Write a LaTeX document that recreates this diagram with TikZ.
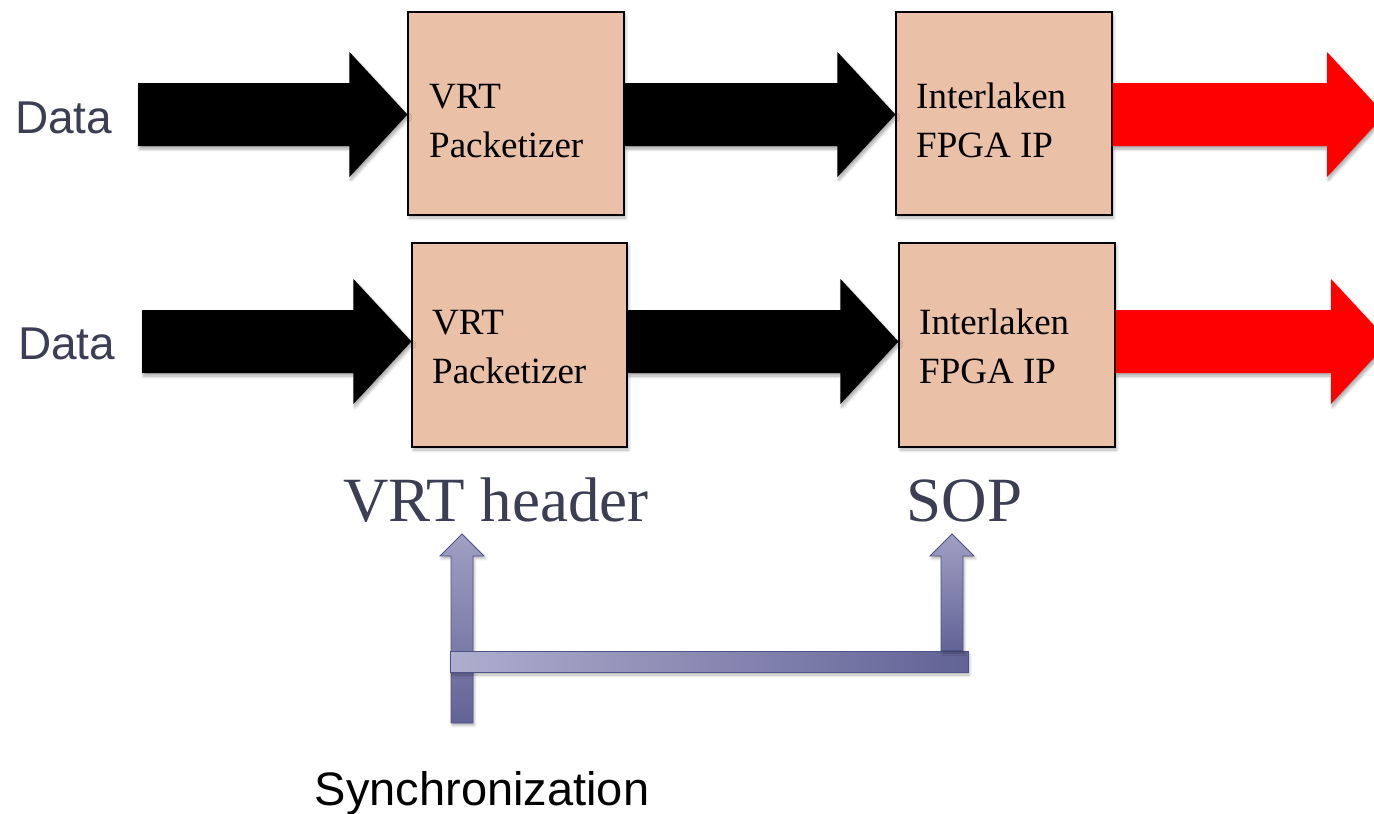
\documentclass[tikz,border=0pt]{standalone}
\usepackage{fontspec}
\setmainfont{Liberation Serif}
\setsansfont{Liberation Sans}
\usetikzlibrary{calc,shadows.blur}

\definecolor{boxfill}{RGB}{234,192,166}
\definecolor{slate}{RGB}{60,62,84}
\definecolor{syncedge}{RGB}{80,82,138}
\definecolor{synclight}{RGB}{174,174,206}
\definecolor{syncmid}{RGB}{160,160,196}
\definecolor{syncdark}{RGB}{98,99,150}
\definecolor{flowred}{RGB}{255,0,0}

\tikzset{
  stage/.style={draw=black, line width=1.1pt, fill=boxfill, inner sep=0pt,
    blur shadow={shadow xshift=1.5pt, shadow yshift=-3pt, shadow blur radius=3pt,
      shadow blur steps=6, shadow opacity=30}},
  stagetext/.style={font=\fontsize{37}{44}\selectfont, text=black, inner sep=0pt, anchor=base west},
  inlabel/.style={font=\sffamily\fontsize{46}{52}\selectfont, text=slate, inner sep=0pt, anchor=base west},
  biglabel/.style={font=\fontsize{63}{70}\selectfont, text=slate, inner sep=0pt, anchor=base},
  synclabel/.style={font=\sffamily\fontsize{47}{54}\selectfont, text=black, inner sep=0pt, anchor=base},
  flowarrow/.style={fill=#1,
    blur shadow={shadow xshift=1.5pt, shadow yshift=-3pt, shadow blur radius=3pt,
      shadow blur steps=6, shadow opacity=35}},
  syncarrow/.style={draw=syncedge, line width=0.9pt, top color=syncmid, bottom color=syncdark,
    blur shadow={shadow xshift=1.5pt, shadow yshift=-2.5pt, shadow blur radius=2.5pt,
      shadow blur steps=5, shadow opacity=30}},
  syncbar/.style={draw=syncedge, line width=0.9pt, left color=synclight, right color=syncdark,
    inner sep=0pt,
    blur shadow={shadow xshift=1.5pt, shadow yshift=-3pt, shadow blur radius=3pt,
      shadow blur steps=6, shadow opacity=30}},
}

% Horizontal block arrow: style, tail point (gives the axis), target (gives the tip x)
\newcommand{\fatarrow}[3]{%
  \path[#1] let \p1=(#2), \p2=(#3) in
    (\x1,{\y1+31.5pt}) -- ({\x2-58pt},{\y1+31.5pt}) -- ({\x2-58pt},{\y1+62.5pt})
    -- (\x2,\y1) -- ({\x2-58pt},{\y1-62.5pt}) -- ({\x2-58pt},{\y1-31.5pt})
    -- (\x1,{\y1-31.5pt}) -- cycle;}

% Vertical block arrow pointing up: style, tail point (gives the bottom), tip point
\newcommand{\raisearrow}[3]{%
  \path[#1] let \p1=(#2), \p2=(#3) in
    ({\x2-11pt},\y1) -- ({\x2-11pt},{\y2-22pt}) -- ({\x2-22pt},{\y2-22pt})
    -- (\x2,\y2) -- ({\x2+22pt},{\y2-22pt}) -- ({\x2+11pt},{\y2-22pt})
    -- ({\x2+11pt},\y1) -- cycle;}

\begin{document}
\begin{tikzpicture}[x=1pt,y=1pt]
\useasboundingbox (0,0) rectangle (1374,-814);

% ---- processing stages ----
\node[stage, minimum width=216pt, minimum height=203pt] (p1) at (516,-113.5) {};
\node[stage, minimum width=216pt, minimum height=203pt] (i1) at (1004,-113.5) {};
\node[stage, minimum width=215pt, minimum height=204pt] (p2) at (519.5,-345) {};
\node[stage, minimum width=216pt, minimum height=204pt] (i2) at (1007,-345) {};

\node[stagetext] (p1a) at (429,-108) {VRT};
\node[stagetext] (p1b) at (429,-157) {Packetizer};
\node[stagetext] (i1a) at (916,-108) {Interlaken};
\node[stagetext] (i1b) at (916,-157) {FPGA IP};
\node[stagetext] (p2a) at (432,-334) {VRT};
\node[stagetext] (p2b) at (432,-383) {Packetizer};
\node[stagetext] (i2a) at (919,-334) {Interlaken};
\node[stagetext] (i2b) at (919,-383) {FPGA IP};

% ---- inputs ----
\node[inlabel] (d1) at (15,-133) {Data};
\node[inlabel] (d2) at (18,-359) {Data};

% arrow axes and free ends
\coordinate (ax1) at (0,-114.5);
\coordinate (ax2) at (0,-341.5);
\coordinate (in1) at (138,-114.5);
\coordinate (in2) at (142,-341.5);
\coordinate (out1) at (1385,-114.5);
\coordinate (out2) at (1389,-341.5);

% ---- data flow ----
\fatarrow{flowarrow=black}{in1}{p1.west}
\fatarrow{flowarrow=black}{p1.east |- ax1}{i1.west}
\fatarrow{flowarrow=flowred}{i1.east |- ax1}{out1}
\fatarrow{flowarrow=black}{in2}{p2.west}
\fatarrow{flowarrow=black}{p2.east |- ax2}{i2.west}
\fatarrow{flowarrow=flowred}{i2.east |- ax2}{out2}

% ---- synchronization ----
\node[biglabel] (vh) at (496,-521) {VRT header};
\node[biglabel] (sop) at (964.5,-521) {SOP};

\coordinate (tipl) at (462,-534);
\coordinate (tipr) at (952,-534);
\coordinate (taill) at (462,-723);

\raisearrow{syncarrow}{taill}{tipl}
\node[syncbar, minimum width=518pt, minimum height=21pt] (bar) at (709,-661.5) {};
\raisearrow{syncarrow}{bar.north -| tipr}{tipr}

\node[synclabel] (sync) at (482,-805) {Synchronization};
\end{tikzpicture}
\end{document}
